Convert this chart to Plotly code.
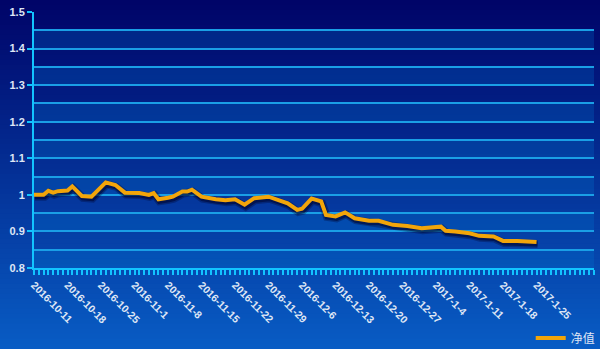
import pandas as pd
import plotly.graph_objects as go

# Category axis: one slot per calendar day (New Year's Day has no slot)
days = [d for d in pd.date_range("2016-10-11", periods=119, freq="D")
        if not (d.month == 1 and d.day == 1)]
categories = [f"{d.year}-{d.month}-{d.day}" for d in days]

tick_labels = ["2016-10-11", "2016-10-18", "2016-10-25", "2016-11-1",
               "2016-11-8", "2016-11-15", "2016-11-22", "2016-11-29",
               "2016-12-6", "2016-12-13", "2016-12-20", "2016-12-27",
               "2017-1-4", "2017-1-11", "2017-1-18", "2017-1-25"]

# 净值 (net asset value) series
nav_dates = ["2016-10-11", "2016-10-13", "2016-10-14", "2016-10-15", "2016-10-16",
             "2016-10-18", "2016-10-19", "2016-10-21", "2016-10-23", "2016-10-26",
             "2016-10-28", "2016-10-30", "2016-11-2", "2016-11-4", "2016-11-5",
             "2016-11-6", "2016-11-8", "2016-11-9", "2016-11-11", "2016-11-12",
             "2016-11-13", "2016-11-15", "2016-11-18", "2016-11-20", "2016-11-22",
             "2016-11-24", "2016-11-26", "2016-11-29", "2016-12-3", "2016-12-5",
             "2016-12-6", "2016-12-8", "2016-12-10", "2016-12-11", "2016-12-13",
             "2016-12-15", "2016-12-17", "2016-12-20", "2016-12-22", "2016-12-25",
             "2016-12-28", "2016-12-31", "2017-1-5", "2017-1-6", "2017-1-8",
             "2017-1-11", "2017-1-13", "2017-1-16", "2017-1-18", "2017-1-21",
             "2017-1-25"]
nav_values = [1.000, 1.000, 1.011, 1.006, 1.010,
              1.012, 1.023, 0.997, 0.995, 1.034,
              1.027, 1.006, 1.005, 1.000, 1.005,
              0.988, 0.992, 0.995, 1.009, 1.009,
              1.014, 0.995, 0.988, 0.985, 0.988,
              0.973, 0.991, 0.995, 0.977, 0.959,
              0.962, 0.990, 0.982, 0.945, 0.941,
              0.952, 0.936, 0.929, 0.929, 0.918,
              0.915, 0.909, 0.913, 0.902, 0.900,
              0.895, 0.888, 0.886, 0.874, 0.874,
              0.871]

nav_x = [categories.index(d) for d in nav_dates]
tick_x = [categories.index(d) for d in tick_labels]

X_RANGE = [0, len(categories) - 1]
Y_RANGE = [0.8, 1.5]
PLOT_W, PLOT_H = 560, 256

AXIS_COLOR = "#12c4ff"
GRID_COLOR = "#1a9fe6"
LABEL_COLOR = "#dfe6f5"
LINE_COLOR = "#f2a50a"

fig = go.Figure()

# soft drop shadow: same series on overlay axes nudged a couple of pixels
dx = (X_RANGE[1] - X_RANGE[0]) / PLOT_W
dy = (Y_RANGE[1] - Y_RANGE[0]) / PLOT_H
fig.add_trace(go.Scatter(x=nav_x, y=nav_values, xaxis="x2", yaxis="y2",
                         mode="lines", line=dict(color="rgba(0,0,40,0.30)", width=8),
                         hoverinfo="skip", showlegend=False))
fig.add_trace(go.Scatter(x=nav_x, y=nav_values, xaxis="x2", yaxis="y2",
                         mode="lines", line=dict(color="rgba(0,0,40,0.50)", width=5),
                         hoverinfo="skip", showlegend=False))

# the series itself, on an unshifted overlay so it sits above the shadow
fig.add_trace(go.Scatter(x=nav_x, y=nav_values, xaxis="x3", yaxis="y3",
                         name="净值", mode="lines",
                         line=dict(color=LINE_COLOR, width=4)))

shapes = []
# page background: vertical gradient from navy to blue
top_rgb = (0, 4, 104)
bot_rgb = (8, 92, 196)
n_strips = 70
y_lo = -81 / PLOT_H
y_hi = 1 + 12 / PLOT_H
for k in range(n_strips):
    t = k / (n_strips - 1)
    c = tuple(round(top_rgb[j] + (bot_rgb[j] - top_rgb[j]) * t) for j in range(3))
    y1 = y_hi - (y_hi - y_lo) * k / n_strips
    y0 = y_hi - (y_hi - y_lo) * (k + 1) / n_strips
    if k == n_strips - 1:
        y0 = y_lo - 0.05
    shapes.append(dict(type="rect", xref="paper", yref="paper",
                       x0=-0.1, x1=1.1, y0=y0 - 0.002, y1=y1 + 0.002,
                       fillcolor=f"rgb{c}", line=dict(width=0), layer="below"))

# alternating split areas every 0.05
step = 0.05
n_bands = round((Y_RANGE[1] - Y_RANGE[0]) / step)
for k in range(n_bands):
    if k % 2 == 1:
        y1 = Y_RANGE[1] - k * step
        shapes.append(dict(type="rect", xref="x domain", yref="y",
                           x0=0, x1=1, y0=y1 - step, y1=y1,
                           fillcolor="rgba(0,125,215,0.24)", line=dict(width=0),
                           layer="below"))

fig.update_layout(
    width=600, height=349,
    margin=dict(l=34, r=6, t=12, b=81, autoexpand=False),
    paper_bgcolor="#00046a",
    plot_bgcolor="rgba(0,0,0,0)",
    shapes=shapes,
    font=dict(family="Liberation Sans, Arial, sans-serif", color=LABEL_COLOR),
    showlegend=True,
    legend=dict(orientation="h", x=1.012, xanchor="right",
                yref="container", y=11 / 349, yanchor="middle",
                bgcolor="rgba(0,0,0,0)",
                font=dict(family="Noto Sans CJK SC, sans-serif", size=12,
                          color=LABEL_COLOR)),
    xaxis=dict(range=X_RANGE, showgrid=False, zeroline=False, automargin=False,
               showline=True, linecolor=AXIS_COLOR, linewidth=2,
               tickmode="array", tickvals=tick_x, ticktext=tick_labels,
               ticks="outside", ticklen=5, tickwidth=1.5, tickcolor=AXIS_COLOR,
               tickangle=45,
               tickfont=dict(size=10.5, color=LABEL_COLOR,
                             family="Liberation Sans, Arial, sans-serif", weight="bold"),
               minor=dict(tick0=0, dtick=1, ticks="outside", ticklen=5, tickwidth=1.5,
                          tickcolor=AXIS_COLOR, showgrid=False)),
    yaxis=dict(range=Y_RANGE, zeroline=False, automargin=False,
               showline=True, linecolor=AXIS_COLOR, linewidth=2,
               tick0=0.8, dtick=0.1, ticks="outside", ticklen=5, tickwidth=1.5,
               tickcolor=AXIS_COLOR,
               showgrid=True, gridcolor=GRID_COLOR, gridwidth=1.5,
               tickfont=dict(size=11, color=LABEL_COLOR,
                             family="Liberation Sans, Arial, sans-serif", weight="bold"),
               minor=dict(dtick=0.05, tick0=0.8, showgrid=True,
                          gridcolor=GRID_COLOR, gridwidth=1.5)),
    xaxis2=dict(range=[X_RANGE[0] - dx, X_RANGE[1] - dx], overlaying="x",
                visible=False),
    yaxis2=dict(range=[Y_RANGE[0] + 2 * dy, Y_RANGE[1] + 2 * dy], overlaying="y",
                visible=False),
    xaxis3=dict(range=X_RANGE, overlaying="x", visible=False),
    yaxis3=dict(range=Y_RANGE, overlaying="y", visible=False),
)

fig.write_html("out.html")
